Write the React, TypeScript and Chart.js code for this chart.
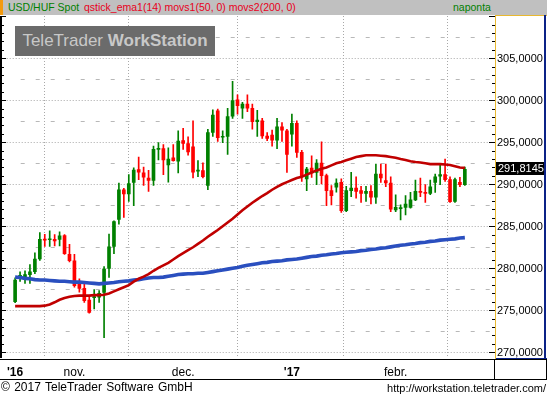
import React, { useEffect, useRef } from "react";
import { Chart, registerables } from "chart.js";

Chart.register(...registerables);

// ---- data ----
const opens = [
  276.07, 279.0, 278.9, 279.29, 279.64, 281.15, 283.5, 283.45, 283.5, 283.5,
  283.93, 281.7, 280.95, 278.2, 277.65, 276.27, 276.55, 276.6, 277.18, 280.04,
  282.65, 285.87, 289.4, 288.9, 290.27, 291.8, 291.4, 290.8, 290.5, 294.2,
  294.3, 292.35, 293.2, 292.8, 295.24, 294.9, 294.5, 291.62, 291.67, 289.9,
  296.23, 298.8, 295.65, 295.75, 298.15, 300.1, 299.1, 299.6, 299.1, 297.5,
  297.6, 295.8, 295.9, 295.3, 296.9, 296.4, 296.0, 297.3, 293.85, 290.68,
  291.99, 291.46, 292.58, 291.07, 289.3, 289.7, 290.27, 286.9, 289.3, 289.6,
  289.3, 288.96, 289.2, 288.5, 291.27, 290.5, 290.2, 287.0, 287.15, 287.3,
  287.3, 288.2, 289.2, 289.08, 288.96, 290.27, 291.0, 291.2, 290.6, 288.0,
  290.27, 290.0,
];
const highs = [
  278.9, 279.64, 279.76, 280.5, 281.9, 284.3, 284.1, 284.5, 284.05, 284.4,
  284.05, 282.9, 281.7, 278.8, 278.2, 276.7, 277.5, 277.4, 280.24, 284.13,
  285.7, 290.2, 289.56, 291.2, 292.0, 293.3, 292.1, 291.7, 294.6, 295.0,
  294.76, 294.4, 294.76, 296.4, 296.7, 295.7, 297.6, 292.86, 292.6, 296.6,
  298.9, 299.0, 296.4, 299.1, 302.3, 300.7, 299.8, 300.7, 299.6, 298.85,
  297.9, 296.2, 296.5, 297.9, 297.4, 296.6, 298.4, 297.6, 294.1, 292.06,
  293.45, 292.98, 295.1, 291.27, 289.9, 290.7, 290.7, 289.8, 291.46, 290.95,
  289.8, 289.8, 289.9, 292.46, 292.46, 292.46, 290.95, 288.8, 287.6, 288.7,
  289.1, 290.56, 290.8, 290.0, 290.56, 291.27, 292.35, 293.06, 290.95, 290.8,
  290.87, 292.1,
];
const lows = [
  275.95, 278.5, 278.25, 278.25, 279.4, 281.0, 282.65, 282.65, 282.7, 282.7,
  281.7, 280.8, 277.8, 277.2, 276.0, 274.7, 275.2, 276.0, 271.8, 278.96,
  281.8, 285.3, 286.1, 288.0, 287.5, 290.6, 289.9, 289.2, 289.9, 292.95,
  291.2, 290.3, 292.8, 291.4, 294.2, 293.5, 290.8, 290.95, 290.8, 289.4,
  295.75, 295.15, 295.0, 293.6, 297.9, 298.4, 297.9, 298.7, 296.6, 295.75,
  295.5, 295.24, 294.6, 294.3, 295.15, 291.45, 294.6, 293.25, 290.4, 289.3,
  290.87, 290.0, 290.1, 287.5, 287.6, 289.1, 286.7, 286.8, 288.57, 288.4,
  287.9, 288.0, 287.7, 287.77, 290.27, 289.76, 286.8, 286.8, 285.8, 286.4,
  287.2, 288.1, 288.57, 287.9, 288.8, 289.08, 290.0, 290.4, 287.9, 287.9,
  289.76, 289.9,
];
const closes = [
  278.65, 279.2, 279.3, 279.64, 281.15, 283.5, 283.4, 283.5, 283.3, 283.9,
  281.8, 280.95, 277.98, 277.65, 276.2, 274.8, 276.6, 277.06, 279.96, 282.6,
  285.6, 289.4, 288.9, 290.12, 291.75, 291.5, 290.9, 290.5, 294.2, 294.25,
  292.95, 293.06, 292.86, 295.2, 294.9, 293.9, 291.5, 291.67, 290.95, 296.2,
  298.3, 295.6, 295.7, 298.1, 300.0, 299.4, 299.6, 299.1, 297.5, 297.7,
  295.8, 295.5, 295.3, 296.9, 296.5, 293.6, 297.3, 293.85, 290.95, 291.87,
  291.4, 292.58, 291.07, 289.3, 288.7, 290.2, 286.9, 289.3, 289.6, 289.2,
  288.96, 289.2, 288.5, 291.27, 290.8, 290.2, 287.1, 287.3, 287.2, 287.7,
  288.2, 289.2, 289.08, 288.96, 289.76, 290.95, 291.2, 290.6, 287.98, 290.6,
  290.0, 291.8145,
];
const movs1 = [
  275.55, 275.55, 275.55, 275.55, 275.55, 275.55, 275.6, 275.75, 276.0, 276.3,
  276.5, 276.65, 276.75, 276.8, 276.8, 276.8, 276.85, 276.85, 276.9, 277.05,
  277.3, 277.55, 277.8, 278.05, 278.45, 278.8, 279.05, 279.35, 279.75, 280.1,
  280.4, 280.7, 281.1, 281.5, 281.85, 282.2, 282.55, 282.95, 283.35, 283.8,
  284.2, 284.6, 285.05, 285.5, 285.95, 286.45, 286.95, 287.4, 287.85, 288.25,
  288.65, 289.0, 289.4, 289.75, 290.05, 290.3, 290.55, 290.8, 290.95, 291.2,
  291.45, 291.7, 291.9, 292.05, 292.3, 292.55, 292.7, 292.9, 293.1, 293.3,
  293.4, 293.5, 293.5, 293.5, 293.45, 293.4, 293.3, 293.2, 293.05, 292.95,
  292.8, 292.7, 292.65, 292.55, 292.45, 292.45, 292.45, 292.4, 292.35, 292.2,
  292.05, 292.0,
];
const movs2 = [
  279.0, 278.95, 278.85, 278.8, 278.7, 278.65, 278.65, 278.6, 278.55, 278.5,
  278.5, 278.45, 278.4, 278.4, 278.35, 278.3, 278.25, 278.2, 278.25, 278.3,
  278.35, 278.45, 278.5, 278.55, 278.65, 278.7, 278.8, 278.9, 278.95, 278.95,
  279.0, 279.1, 279.2, 279.3, 279.35, 279.4, 279.4, 279.45, 279.45, 279.55,
  279.65, 279.75, 279.85, 279.95, 280.05, 280.15, 280.3, 280.4, 280.5, 280.6,
  280.7, 280.75, 280.85, 280.9, 280.95, 281.05, 281.1, 281.15, 281.25, 281.35,
  281.45, 281.5, 281.6, 281.65, 281.75, 281.8, 281.9, 281.95, 282.0, 282.05,
  282.15, 282.2, 282.3, 282.35, 282.45, 282.5, 282.6, 282.7, 282.8, 282.85,
  282.95, 283.0, 283.1, 283.15, 283.25, 283.3, 283.4, 283.45, 283.5, 283.55,
  283.65, 283.7,
];
const monthTickIndex = [0, 12, 34, 56, 77];
const monthTickLabels = ["'16", "nov.", "dec.", "'17", "febr."];
const priceTicks = [270, 275, 280, 285, 290, 295, 300, 305];
const minorPriceLines = [272.5, 277.5, 282.5, 287.5, 292.5, 297.5, 302.5, 307.5];
const lastPrice = 291.8145;

// ---- style ----
const W = 547;
const H = 397;
const FONT = '"Liberation Sans", Arial, sans-serif';
const GREEN = "#008000";
const RED = "#ff0000";
const GRID = "#a8a8a8";

const fmt = (v: number) => v.toFixed(4).replace(".", ",");

const decorPlugin = {
  id: "decor",
  beforeDraw(chart: any) {
    const { ctx } = chart;
    ctx.save();
    ctx.fillStyle = "#ffffff";
    ctx.fillRect(0, 0, W, H);
    ctx.restore();
  },
  beforeDatasetsDraw(chart: any) {
    const { ctx, chartArea: a, scales } = chart;
    const y = scales.y;
    ctx.save();
    ctx.strokeStyle = "#b8b8b8";
    ctx.lineWidth = 1;
    ctx.setLineDash([4, 11]);
    for (const v of minorPriceLines) {
      const py = Math.round(y.getPixelForValue(v) - 0.5) + 0.5;
      if (py < a.top || py > a.bottom) continue;
      ctx.beginPath();
      ctx.moveTo(a.left + 14, py);
      ctx.lineTo(a.right, py);
      ctx.stroke();
    }
    ctx.restore();
  },
  afterDraw(chart: any) {
    const { ctx, chartArea: a, scales } = chart;
    const y = scales.y;
    ctx.save();
    // left axis line + ticks
    ctx.fillStyle = "#000";
    ctx.fillRect(0, a.top, 2, a.bottom - a.top);
    const lo = Math.ceil(y.min);
    const hi = Math.floor(y.max);
    for (let v = lo; v <= hi; v++) {
      const py = Math.round(y.getPixelForValue(v) - 0.5);
      const major = v % 5 === 0;
      ctx.fillRect(0, py, major ? 6 : 4, 1);
      ctx.fillRect(a.right - (major ? 6 : 3), py, major ? 6 : 3, 1);
    }
    // right panel frame
    ctx.fillStyle = "#e8b830";
    ctx.fillRect(a.right, 15, 1, a.bottom - 15 + 1);
    ctx.fillRect(a.right, 15, W - a.right, 1);
    ctx.fillStyle = "#0b2287";
    ctx.fillRect(544, 15, 2, a.bottom - 15 + 1);
    ctx.fillRect(a.right + 1, a.bottom, W - a.right - 1, 1);
    // x label row frame
    ctx.fillStyle = "#000";
    ctx.fillRect(0, a.bottom + 1, W, 1);
    ctx.fillRect(0, 379, W, 1);
    ctx.fillRect(494, a.bottom + 1, 1, 379 - a.bottom - 1);
    ctx.fillRect(546, a.bottom + 1, 1, 379 - a.bottom - 1);
    // last price box
    const py = Math.round(y.getPixelForValue(lastPrice));
    ctx.fillStyle = "#000";
    ctx.fillRect(a.right + 1, py - 7, 48, 13);
    ctx.fillStyle = "#fff";
    ctx.font = `11px ${FONT}`;
    ctx.textAlign = "left";
    ctx.textBaseline = "middle";
    ctx.fillText(fmt(lastPrice), a.right + 3, py);
    ctx.restore();
  },
};

export default function App() {
  const ref = useRef<HTMLCanvasElement>(null);

  useEffect(() => {
    const canvas = ref.current;
    if (!canvas) return;
    const idx = opens.map((_, i) => i);
    const candleColor = (c: any) =>
      closes[c.dataIndex] >= opens[c.dataIndex] ? GREEN : RED;

    const chart = new Chart(canvas, {
      type: "bar",
      data: {
        datasets: [
          {
            type: "line",
            label: "movs1(50, 0)",
            data: idx.map((i) => ({ x: i, y: movs1[i] })),
            borderColor: "#c00000",
            borderWidth: 2.6,
            pointRadius: 0,
            tension: 0,
            order: 0,
          } as any,
          {
            type: "line",
            label: "movs2(200, 0)",
            data: idx.map((i) => ({ x: i, y: movs2[i] })),
            borderColor: "#2a4fbf",
            borderWidth: 3.6,
            pointRadius: 0,
            tension: 0,
            order: 1,
          } as any,
          {
            type: "bar",
            label: "body",
            data: idx.map((i) => ({ x: i, y: [opens[i], closes[i]] })),
            backgroundColor: candleColor,
            borderWidth: 0,
            barThickness: 3,
            minBarLength: 1,
            grouped: false,
            order: 2,
          } as any,
          {
            type: "bar",
            label: "wick",
            data: idx.map((i) => ({ x: i, y: [lows[i], highs[i]] })),
            backgroundColor: candleColor,
            borderWidth: 0,
            barThickness: 1,
            grouped: false,
            order: 3,
          } as any,
        ],
      },
      options: {
        responsive: false,
        animation: false,
        devicePixelRatio: 1,
        layout: { padding: { top: 16, left: 1, right: 0, bottom: 18 } },
        plugins: {
          legend: { display: false },
          tooltip: { enabled: false },
          title: { display: false },
        },
        events: [],
        scales: {
          x: {
            type: "linear",
            position: "bottom",
            min: -1.7,
            max: 97.1,
            offset: false,
            afterBuildTicks: (s: any) => {
              s.ticks = monthTickIndex.map((v) => ({ value: v }));
            },
            afterFit: (s: any) => {
              s.height = 21;
            },
            ticks: {
              autoSkip: false,
              maxRotation: 0,
              minRotation: 0,
              padding: 7,
              color: "#000",
              callback: (_v: any, i: number) => monthTickLabels[i],
              font: (c: any) => ({
                family: FONT,
                size: 12,
                weight: monthTickLabels[c.index] && monthTickLabels[c.index].startsWith("'") ? "bold" : "normal",
              }),
            },
            grid: {
              color: (c: any) => (c.index === 0 ? "rgba(0,0,0,0)" : GRID),
              drawTicks: false,
              lineWidth: 1,
            },
            border: { display: false, dash: [1, 2] },
          } as any,
          y: {
            type: "linear",
            position: "right",
            min: 269.37,
            max: 310.08,
            afterBuildTicks: (s: any) => {
              s.ticks = priceTicks.map((v) => ({ value: v }));
            },
            afterFit: (s: any) => {
              s.width = 52;
            },
            ticks: {
              padding: 2,
              color: "#000",
              font: { family: FONT, size: 11 },
              callback: (v: any) => fmt(Number(v)),
            },
            grid: { color: GRID, drawTicks: false, lineWidth: 1 },
            border: { display: false, dash: [1, 2] },
          } as any,
        },
      } as any,
      plugins: [decorPlugin],
    });
    return () => chart.destroy();
  }, []);

  return (
    <div
      style={{
        position: "absolute",
        left: 0,
        top: 0,
        width: W,
        height: H,
        overflow: "hidden",
        background: "#fff",
        fontFamily: FONT,
      }}
    >
      <canvas
        ref={ref}
        width={W}
        height={H}
        style={{ position: "absolute", left: 0, top: 0, width: W, height: H }}
      />
      <div
        style={{
          position: "absolute",
          left: 0,
          top: 0,
          width: W,
          height: 15,
          background: "#c0c0c0",
          fontSize: 10.5,
          lineHeight: "15px",
          whiteSpace: "nowrap",
        }}
      >
        <div style={{ position: "absolute", left: 0, top: 0, width: 3, height: 15, background: "#f39a10" }} />
        <span style={{ position: "absolute", left: 8, top: 0, color: "#008000" }}>USD/HUF Spot</span>
        <span style={{ position: "absolute", left: 84, top: 0, color: "#e8001c" }}>
          qstick_ema1(14) movs1(50, 0) movs2(200, 0)
        </span>
        <span style={{ position: "absolute", left: 453, top: 0, color: "#008000" }}>naponta</span>
      </div>
      <div
        style={{
          position: "absolute",
          left: 15,
          top: 26,
          width: 200,
          height: 30,
          background: "#6b6b6b",
          color: "#c8c8c8",
          fontSize: 17,
          lineHeight: "30px",
          textAlign: "center",
          whiteSpace: "nowrap",
        }}
      >
        TeleTrader <b>WorkStation</b>
      </div>
      <div
        style={{
          position: "absolute",
          left: 1,
          top: 380,
          fontSize: 12,
          lineHeight: "15px",
          color: "#000",
          whiteSpace: "nowrap",
          wordSpacing: 1,
        }}
      >
        © 2017 TeleTrader Software GmbH
      </div>
      <div
        style={{
          position: "absolute",
          right: 1,
          top: 381,
          fontSize: 11,
          lineHeight: "15px",
          color: "#000",
          whiteSpace: "nowrap",
        }}
      >
        http://workstation.teletrader.com/
      </div>
    </div>
  );
}
